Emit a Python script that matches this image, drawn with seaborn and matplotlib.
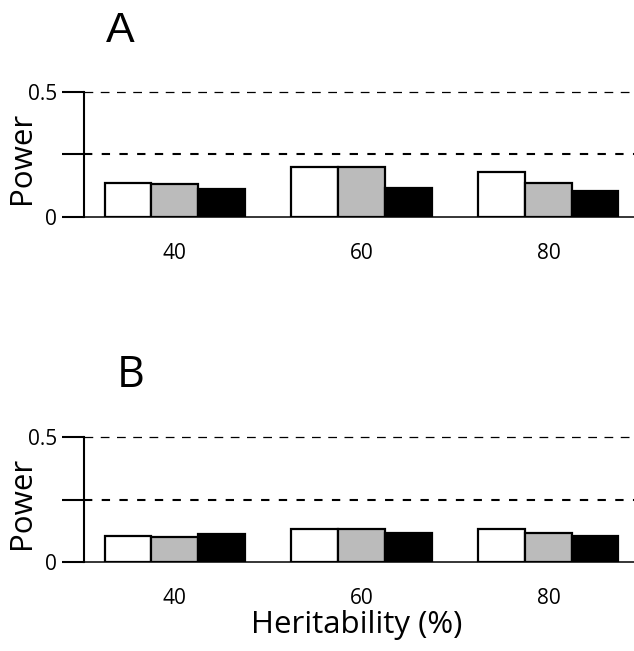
import matplotlib
matplotlib.use("Agg")
import matplotlib.pyplot as plt
import seaborn as sns
import pandas as pd

heritability = ["40", "60", "80"]
methods = ["Method 1", "Method 2", "Method 3"]
panel_a_white = [0.134, 0.200, 0.180]
panel_a_gray = [0.131, 0.201, 0.134]
panel_a_black = [0.111, 0.114, 0.104]
panel_b_white = [0.104, 0.134, 0.131]
panel_b_gray = [0.099, 0.134, 0.115]
panel_b_black = [0.112, 0.115, 0.106]
y_ticks = [0, 0.25, 0.5]
y_ticklabels = ["0", "", "0.5"]
ref_lines = [0.5, 0.25]

def make_df(white, gray, black):
    rows = []
    for m, vals in zip(methods, [white, gray, black]):
        for h, v in zip(heritability, vals):
            rows.append({"heritability": h, "method": m, "power": v})
    return pd.DataFrame(rows)

df_a = make_df(panel_a_white, panel_a_gray, panel_a_black)
df_b = make_df(panel_b_white, panel_b_gray, panel_b_black)

sns.set_theme(style="white")
plt.rcParams["font.family"] = ["Open Sans", "DejaVu Sans"]
plt.rcParams["text.color"] = "black"
plt.rcParams["axes.labelcolor"] = "black"
plt.rcParams["xtick.color"] = "black"
plt.rcParams["ytick.color"] = "black"
plt.rcParams["xtick.labelcolor"] = "black"
plt.rcParams["ytick.labelcolor"] = "black"

W, H = 634, 651
fig = plt.figure(figsize=(W / 100, H / 100), dpi=100)

def px_axes(left, top, right, bottom):
    return fig.add_axes([left / W, 1 - bottom / H, (right - left) / W, (bottom - top) / H])

ax_a = px_axes(84, 92, 634, 217)
ax_b = px_axes(84, 437, 634, 562)

palette = ["white", "#bbbbbb", "black"]

for ax, df, letter, lx, lfam in [(ax_a, df_a, "A", 0.04, ["Liberation Sans", "DejaVu Sans"]),
                                 (ax_b, df_b, "B", 0.06, ["Open Sans", "DejaVu Sans"])]:
    sns.barplot(data=df, x="heritability", y="power", hue="method", order=heritability,
                hue_order=methods, palette=palette, edgecolor="black", linewidth=1.6,
                width=0.75, errorbar=None, legend=False, ax=ax, zorder=3)
    ax.set_xlim(-0.485, 2.458)
    ax.set_ylim(0, 0.5)
    ax.axhline(ref_lines[0], color="black", lw=0.9, linestyle=(0, (7, 6)), clip_on=False, zorder=1)
    ax.axhline(ref_lines[1], color="black", lw=1.5, linestyle=(0, (4, 4.5)), clip_on=False, zorder=1)
    for s in ["top", "right"]:
        ax.spines[s].set_visible(False)
    ax.spines["left"].set_linewidth(1.5)
    ax.spines["left"].set_color("black")
    ax.spines["bottom"].set_linewidth(1.1)
    ax.spines["bottom"].set_color("black")
    ax.set_yticks(y_ticks)
    ax.set_yticklabels(y_ticklabels, fontsize=15)
    ax.tick_params(axis="y", direction="out", length=16, width=1.5, pad=3.5, colors="black", left=True)
    ax.tick_params(axis="x", length=0, pad=19, labelsize=15, colors="black")
    ax.set_xlabel("")
    ax.set_ylabel("Power", fontsize=22.5, va="center", ha="center", color="black")
    ax.yaxis.set_label_coords(-0.113, 0.47)
    ax.text(lx, 1.40, letter, transform=ax.transAxes, fontsize=31, family=lfam,
            ha="left", va="baseline", color="black")

ax_b.set_xlabel("Heritability (%)", fontsize=22.5, va="baseline", ha="center", color="black")
ax_b.xaxis.set_label_coords(0.496, -0.57)

fig.savefig("out.png", dpi=100)
